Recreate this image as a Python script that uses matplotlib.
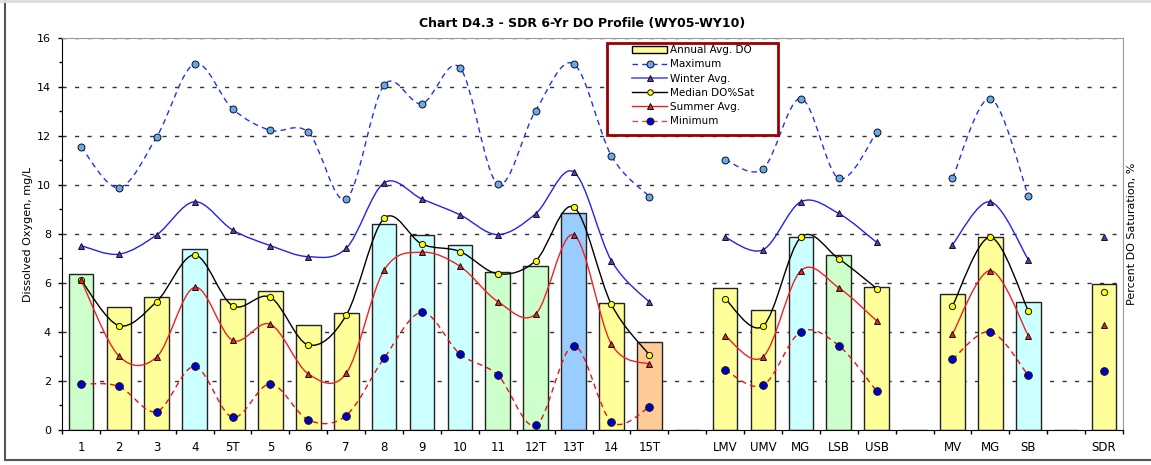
import numpy as np
import matplotlib.pyplot as plt
from matplotlib.path import Path
from matplotlib.patches import PathPatch, Rectangle
from matplotlib.lines import Line2D

plt.rcParams['font.family'] = ['DejaVu Sans']

nan = np.nan

# stations along the river, blank slots separate the reach groups
sites = ['1', '2', '3', '4', '5T', '5', '6', '7', '8', '9', '10', '11', '12T', '13T', '14', '15T', '',
         'LMV', 'UMV', 'MG', 'LSB', 'USB', '',
         'MV', 'MG', 'SB', '',
         'SDR']

annual_avg = [6.38, 5.01, 5.41, 7.39, 5.35, 5.66, 4.29, 4.78, 8.41, 7.97, 7.55, 6.44, 6.68, 8.87, 5.17, 3.58, nan,
              5.78, 4.90, 7.86, 7.12, 5.82, nan,
              5.54, 7.86, 5.24, nan,
              5.95]
maximum = [11.55, 9.88, 11.96, 14.94, 13.10, 12.22, 12.14, 9.42, 14.07, 13.31, 14.78, 10.03, 13.03, 14.94, 11.18, 9.52, nan,
           11.03, 10.65, 13.52, 10.26, 12.14, nan,
           10.27, 13.52, 9.56, nan,
           nan]
winter_avg = [7.52, 7.17, 7.96, 9.31, 8.16, 7.52, 7.07, 7.41, 10.08, 9.42, 8.78, 7.97, 8.82, 10.53, 6.90, 5.21, nan,
              7.86, 7.35, 9.31, 8.83, 7.65, nan,
              7.56, 9.31, 6.95, nan,
              7.89]
median_sat = [6.12, 4.26, 5.24, 7.14, 5.07, 5.41, 3.47, 4.68, 8.63, 7.58, 7.28, 6.37, 6.90, 9.09, 5.12, 3.06, nan,
              5.35, 4.24, 7.86, 6.98, 5.77, nan,
              5.06, 7.86, 4.87, nan,
              5.62]
summer_avg = [6.12, 3.02, 2.98, 5.82, 3.66, 4.31, 2.29, 2.31, 6.52, 7.25, 6.68, 5.24, 4.73, 7.96, 3.50, 2.68, nan,
              3.84, 2.98, 6.50, 5.80, 4.45, nan,
              3.92, 6.50, 3.85, nan,
              4.29]
minimum = [1.88, 1.78, 0.75, 2.59, 0.52, 1.88, 0.41, 0.59, 2.93, 4.80, 3.10, 2.24, 0.19, 3.44, 0.33, 0.93, nan,
           2.45, 1.82, 4.01, 3.44, 1.58, nan,
           2.88, 4.01, 2.23, nan,
           2.40]

GREEN, YELLOW, CYAN, BLUE, ORANGE = '#CCFFCC', '#FFFF99', '#CCFFFF', '#99CCFF', '#FFCC99'
bar_colors = [GREEN, YELLOW, YELLOW, CYAN, YELLOW, YELLOW, YELLOW, YELLOW, CYAN, CYAN, CYAN, GREEN, GREEN, BLUE,
              YELLOW, ORANGE, 'none',
              YELLOW, YELLOW, CYAN, GREEN, YELLOW, 'none',
              YELLOW, YELLOW, CYAN, 'none',
              YELLOW]


def smooth_path(x, y):
    """Bezier path through the points (Excel-style smoothing), broken at NaN gaps."""
    x = np.asarray(x, float)
    y = np.asarray(y, float)
    ok = ~np.isnan(y)
    verts, codes = [], []
    i, n = 0, len(y)
    while i < n:
        if not ok[i]:
            i += 1
            continue
        j = i
        while j < n and ok[j]:
            j += 1
        P = np.column_stack([x[i:j], y[i:j]])
        if len(P) > 1:
            Pe = np.vstack([P[0], P, P[-1]])
            verts.append(P[0])
            codes.append(Path.MOVETO)
            for k in range(len(P) - 1):
                p0, p1, p2, p3 = Pe[k], Pe[k + 1], Pe[k + 2], Pe[k + 3]
                verts += [p1 + (p2 - p0) / 6, p2 - (p3 - p1) / 6, p2]
                codes += [Path.CURVE4] * 3
        i = j
    return Path(verts, codes)


W, H = 1151, 465
fig = plt.figure(figsize=(W / 100, H / 100), dpi=100)
ax = fig.add_axes([62 / W, 35 / H, (1123 - 62) / W, (430 - 37.7) / H])

x = np.arange(len(sites))

# grid behind the bars
for yv in range(2, 17, 2):
    ax.axhline(yv, color='#333333', lw=1, ls=(0, (3, 6)), zorder=0)

heights = np.nan_to_num(annual_avg)
ax.bar(x, heights, width=0.65, color=bar_colors, edgecolor='#222222', linewidth=1, zorder=2)

series = [
    (maximum, '#2233EE', (0, (4, 3)), 'o', '#66AAEE', 5),
    (winter_avg, '#2222EE', '-', '^', '#6633CC', 5),
    (median_sat, 'black', '-', 'o', '#FFFF00', 4.5),
    (summer_avg, '#EE2222', '-', '^', '#EE2222', 5),
    (minimum, '#EE1111', (0, (4, 3)), 'o', '#0000CC', 5.5),
]
for vals, lc, ls, mk, mc, ms in series:
    ax.add_patch(PathPatch(smooth_path(x, vals), fill=False, edgecolor=lc, lw=1, ls=ls, zorder=3))
    ax.plot(x, vals, ls='none', marker=mk, ms=ms, mfc=mc, mec='#111111', mew=0.7, zorder=4)

ax.set_xlim(-0.5, len(sites) - 0.5)
ax.set_ylim(0, 16)
ax.set_yticks(range(0, 17, 2))
ax.set_yticks(range(1, 16, 2), minor=True)
ax.tick_params(axis='y', which='major', direction='out', length=3, width=1, pad=5, labelsize=8)
ax.tick_params(axis='y', which='minor', direction='out', length=2.5, width=1)
ax.set_xticks(x)
ax.set_xticklabels(sites)
ax.set_xticks(np.arange(-0.5, len(sites), 1), minor=True)
ax.tick_params(axis='x', which='major', length=0, pad=8, labelsize=8.5)
ax.tick_params(axis='x', which='minor', direction='out', length=3, width=1)

for side in ('top', 'right'):
    ax.spines[side].set_color('#999999')
for side in ('left', 'bottom'):
    ax.spines[side].set_color('black')

fig.text(582 / W, 1 - 23 / H, 'Chart D4.3 - SDR 6-Yr DO Profile (WY05-WY10)',
         ha='center', va='center', fontsize=9, fontweight='bold')
fig.text(28 / W, 1 - 234 / H, 'Dissolved Oxygen, mg/L', rotation=90, ha='center', va='center', fontsize=8)
fig.text(1132 / W, 1 - 234 / H, 'Percent DO Saturation, %', rotation=90, ha='center', va='center', fontsize=8)

handles = [
    Rectangle((0, 0), 1, 1, facecolor=YELLOW, edgecolor='black', lw=1),
    Line2D([], [], color='#2233EE', ls=(0, (4, 3)), lw=1, marker='o', ms=5, mfc='#66AAEE', mec='#111111', mew=0.7),
    Line2D([], [], color='#5555EE', ls='-', lw=1.2, marker='^', ms=5, mfc='#6633CC', mec='#111111', mew=0.7),
    Line2D([], [], color='black', ls='-', lw=1, marker='o', ms=4, mfc='#FFFF00', mec='#111111', mew=0.7),
    Line2D([], [], color='#EE2222', ls='-', lw=1, marker='^', ms=5, mfc='#EE2222', mec='#111111', mew=0.7),
    Line2D([], [], color='#EE4444', ls=(0, (4, 3)), lw=1, marker='o', ms=5, mfc='#0000CC', mec='#111111', mew=0.7),
]
labels = ['Annual Avg. DO', 'Maximum', 'Winter Avg.', 'Median DO%Sat', 'Summer Avg.', 'Minimum']
# white box with dark red frame behind the legend entries
fig.patches.append(Rectangle((607.5 / W, 1 - 135 / H), (778 - 607.5) / W, (135 - 43) / H,
                             transform=fig.transFigure, facecolor='white', edgecolor='#990000',
                             lw=2, zorder=1))
leg = fig.legend(handles, labels, loc='upper left', bbox_to_anchor=(632 / W, 1 - 45 / H),
                 frameon=False, fontsize=7.5, handlelength=3.4, handletextpad=0.25,
                 labelspacing=0.41, borderpad=0, borderaxespad=0)
leg.set_zorder(5)

# outer chart border
fig.add_artist(Line2D([4.5 / W, 4.5 / W], [5 / H, 1], transform=fig.transFigure, color='#555555', lw=1.5))
fig.add_artist(Line2D([4.5 / W, 1], [5 / H, 5 / H], transform=fig.transFigure, color='#555555', lw=1.5))
fig.add_artist(Line2D([0, 1], [1 - 1 / H, 1 - 1 / H], transform=fig.transFigure, color='#DDDDDD', lw=2))

fig.savefig('out.png', dpi=100)
